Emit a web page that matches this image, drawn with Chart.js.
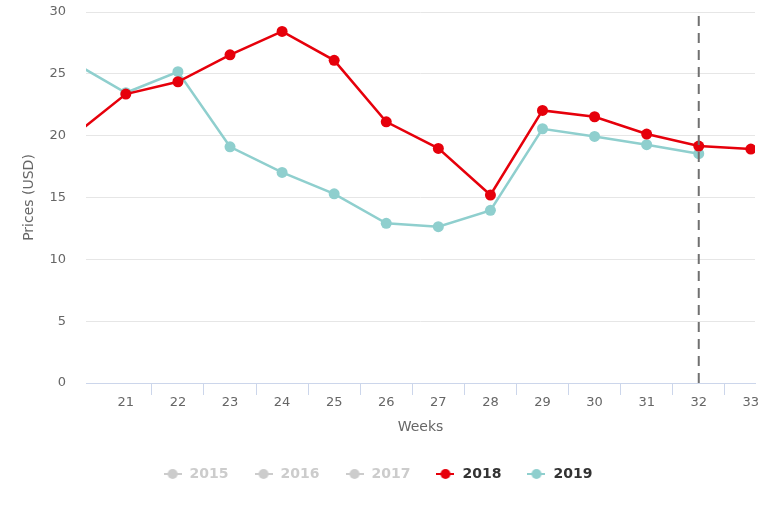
<!DOCTYPE html>
<html>
<head>
<meta charset="utf-8">
<script src="https://cdn.jsdelivr.net/npm/chart.js@4/dist/chart.umd.min.js"></script>
<style>
  html, body { margin: 0; padding: 0; background: #fff; }
  #wrap { width: 768px; height: 512px; }
</style>
</head>
<body>
<div id="wrap"><canvas id="chart" width="768" height="512"></canvas></div>
<script>
// weeks on the x axis
const weeks = [20, 21, 22, 23, 24, 25, 26, 27, 28, 29, 30, 31, 32, 33];
// prices in USD per week
const prices2018 = [20.0, 23.36, 24.36, 26.54, 28.43, 26.09, 21.12, 18.97, 15.2, 22.04, 21.53, 20.13, 19.16, 18.92];
const prices2019 = [25.9, 23.47, 25.17, 19.1, 17.03, 15.3, 12.91, 12.64, 13.96, 20.56, 19.94, 19.27, 18.54];
const years = ['2015', '2016', '2017', '2018', '2019'];
const hiddenYears = ['2015', '2016', '2017'];
const currentWeek = 32;
const yTicks = [0, 5, 10, 15, 20, 25, 30];

const RED = '#e6000b';
const TEAL = '#8fcfce';
const GREY = '#cccccc';

function toPoints(values) {
  return values.map((v, i) => ({ x: weeks[i], y: v }));
}

// little line+dot marker for the legend
function legendMarker(color) {
  const c = document.createElement('canvas');
  c.width = 18; c.height = 12;
  const g = c.getContext('2d');
  g.strokeStyle = color;
  g.lineWidth = 2;
  g.beginPath(); g.moveTo(0, 6); g.lineTo(18, 6); g.stroke();
  g.fillStyle = color;
  g.beginPath(); g.arc(9, 6, 5, 0, Math.PI * 2); g.fill();
  return c;
}

const seriesData = { '2018': prices2018, '2019': prices2019 };
const seriesColor = { '2018': RED, '2019': TEAL };

const datasets = years.map(y => {
  const isHidden = hiddenYears.includes(y);
  const col = isHidden ? GREY : seriesColor[y];
  return {
    label: y,
    data: isHidden ? [] : toPoints(seriesData[y]),
    hidden: isHidden,
    borderColor: col,
    backgroundColor: col,
    borderWidth: 2.5,
    pointRadius: 5.5,
    pointHoverRadius: 5.5,
    pointBorderWidth: 0,
    tension: 0
  };
});

// current week marker, drawn on top
datasets.push({
  label: 'current',
  data: [{ x: currentWeek, y: yTicks[0] }, { x: currentWeek, y: yTicks[yTicks.length - 1] }],
  borderColor: '#707070',
  borderWidth: 2,
  borderDash: [10, 7],
  pointRadius: 0,
  order: -1,
  clip: 0
});

const FONT = 'DejaVu Sans';

function isWhole(v) { return Math.abs(v - Math.round(v)) < 1e-6; }

new Chart(document.getElementById('chart'), {
  type: 'line',
  data: { datasets: datasets },
  options: {
    responsive: false,
    animation: false,
    layout: { padding: { left: 0, right: 13, top: 12, bottom: 21 } },
    plugins: {
      tooltip: { enabled: false },
      legend: {
        position: 'bottom',
        labels: {
          usePointStyle: true,
          pointStyleWidth: 20,
          padding: 25,
          font: { family: FONT, size: 14, weight: 'bold' },
          generateLabels(chart) {
            return chart.data.datasets
              .map((ds, i) => ({ ds, i }))
              .filter(o => o.ds.label !== 'current')
              .map(o => {
                const off = hiddenYears.includes(o.ds.label);
                return {
                  text: o.ds.label,
                  datasetIndex: o.i,
                  hidden: false,
                  fontColor: off ? GREY : '#333333',
                  pointStyle: legendMarker(off ? GREY : o.ds.borderColor),
                  lineWidth: 0,
                  strokeStyle: 'transparent',
                  fillStyle: 'transparent'
                };
              });
          }
        },
        onClick() {}
      }
    },
    scales: {
      x: {
        type: 'linear',
        min: 20.235,
        max: 33.08,
        afterFit(scale) { scale.height = 59; },
        ticks: {
          stepSize: 0.5,
          includeBounds: false,
          autoSkip: false,
          maxRotation: 0,
          padding: 0,
          color: '#666666',
          font: { family: FONT, size: 13 },
          callback(v) { return isWhole(v) ? String(Math.round(v)) : ''; }
        },
        grid: {
          drawOnChartArea: false,
          drawTicks: true,
          tickLength: 12,
          color(ctx) {
            const v = ctx.tick ? ctx.tick.value : 0;
            // tick marks only between categories
            return (isWhole(v) || v < weeks[1]) ? 'rgba(0,0,0,0)' : '#ccd6eb';
          }
        },
        border: { display: true, color: '#ccd6eb', width: 1 },
        title: {
          display: true,
          text: 'Weeks',
          color: '#666666',
          font: { family: FONT, size: 14 },
          padding: { top: 4, bottom: 6.6 }
        }
      },
      y: {
        min: yTicks[0],
        max: yTicks[yTicks.length - 1],
        afterFit(scale) {
          scale.width = 86;
          scale.paddingTop = 0;
          scale.paddingBottom = 0;
        },
        afterBuildTicks(scale) { scale.ticks = yTicks.map(v => ({ value: v })); },
        ticks: {
          padding: 20,
          color: '#666666',
          font: { family: FONT, size: 13 }
        },
        grid: { color: '#e6e6e6', drawTicks: false },
        border: { display: false },
        title: {
          display: true,
          text: 'Prices (USD)',
          color: '#666666',
          font: { family: FONT, size: 14 },
          padding: { top: 21, bottom: 4 }
        }
      }
    }
  }
});
</script>
</body>
</html>
